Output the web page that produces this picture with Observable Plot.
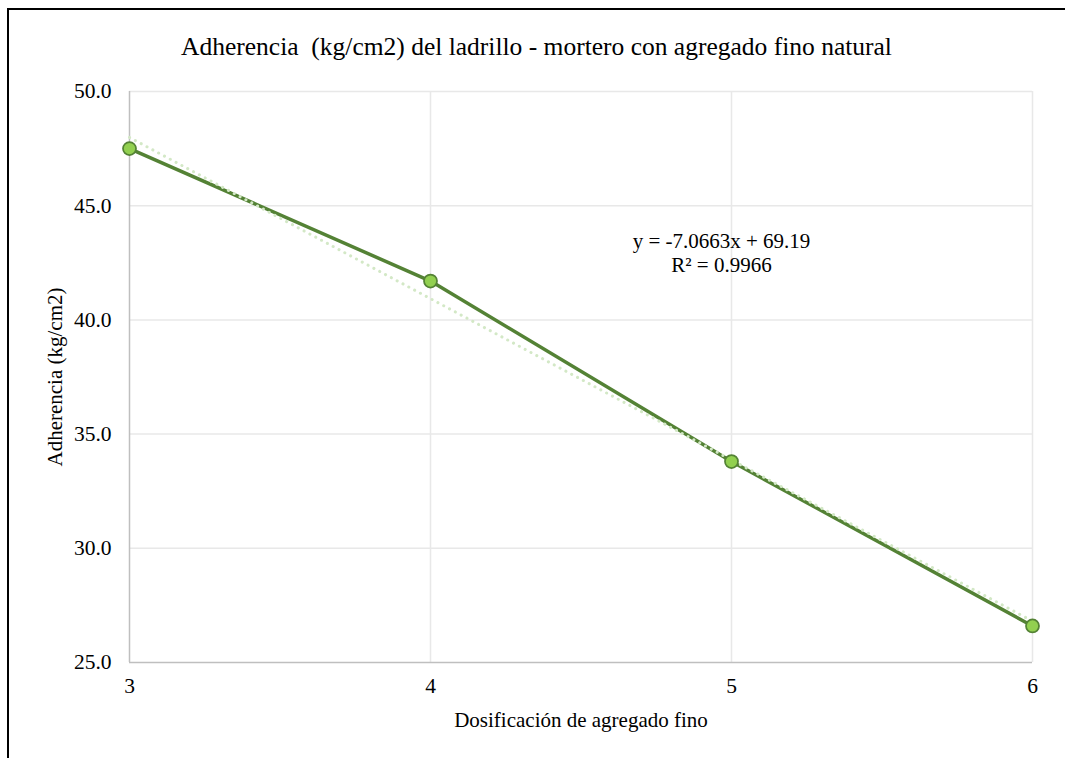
<!DOCTYPE html>
<html>
<head>
<meta charset="utf-8">
<script src="https://cdn.jsdelivr.net/npm/d3@7"></script>
<script src="https://cdn.jsdelivr.net/npm/@observablehq/plot@0.6"></script>
<style>
  html, body { margin: 0; padding: 0; background: #fff; }
  #wrap { position: relative; width: 1065px; height: 758px; overflow: hidden; background: #fff;
          font-family: "Liberation Serif", "Times New Roman", serif; }
  #frame { position: absolute; left: 7px; top: 8px; width: 1200px; height: 900px;
           border-left: 2px solid #000; border-top: 2px solid #000; box-sizing: border-box; }
  #title { position: absolute; left: 0; top: 0; width: 1073px; height: 70px; line-height: 94px;
           text-align: center; font-size: 25.5px; color: #000; white-space: pre; }
  #chart { position: absolute; left: 0; top: 70px; }
</style>
</head>
<body>
<div id="wrap">
  <div id="frame"></div>
  <div id="title"></div>
  <div id="chart"></div>
</div>
<script>
const titleText = "Adherencia  (kg/cm2) del ladrillo - mortero con agregado fino natural";
const xLabel = "Dosificación de agregado fino";
const yLabel = "Adherencia (kg/cm2)";
const dosificacion = [3, 4, 5, 6];
const adherencia = [47.5, 41.7, 33.8, 26.6];
const xTicks = [3, 4, 5, 6];
const yTicks = [25, 30, 35, 40, 45, 50];
const equationText = "y = -7.0663x + 69.19";
const r2Text = "R² = 0.9966";

const data = dosificacion.map((d, i) => ({x: d, y: adherencia[i]}));

document.getElementById("title").textContent = titleText;

const font = "'Liberation Serif', 'Times New Roman', serif";
const chart = Plot.plot({
  width: 1065,
  height: 688,
  marginTop: 21,
  marginBottom: 96,
  marginLeft: 129,
  marginRight: 33,
  style: {fontFamily: font, fontSize: "21px", color: "#000", background: "transparent", overflow: "visible"},
  x: {domain: [3, 6], ticks: xTicks},
  y: {domain: [25, 50], ticks: yTicks},
  marks: [
    Plot.gridY(yTicks.slice(1), {stroke: "#e8e8e8", strokeOpacity: 1, strokeWidth: 1.5}),
    Plot.gridX(xTicks.slice(1), {stroke: "#e8e8e8", strokeOpacity: 1, strokeWidth: 1.5}),
    Plot.ruleY([yTicks[0]], {stroke: "#bfbfbf", strokeWidth: 1.5}),
    Plot.ruleX([xTicks[0]], {stroke: "#bfbfbf", strokeWidth: 1.5}),
    Plot.axisY(yTicks, {tickSize: 0, tickPadding: 18, tickFormat: d => d.toFixed(1), label: null, fontSize: 21.5, fontFamily: font}),
    Plot.axisX(xTicks, {tickSize: 0, tickPadding: 15, tickFormat: d => String(d), label: null, fontSize: 21.5, fontFamily: font}),
    Plot.line(data, {x: "x", y: "y", stroke: "#548235", strokeWidth: 3.5}),
    Plot.linearRegressionY(data, {x: "x", y: "y", ci: 0, stroke: "#d3e8c6", strokeWidth: 3, strokeDasharray: "0.1 6.5", strokeLinecap: "round"}),
    Plot.dot(data, {x: "x", y: "y", r: 6.5, fill: "#92d050", stroke: "#548235", strokeWidth: 1.75}),
    Plot.text([equationText + "\n" + r2Text], {frameAnchor: "top-left", dx: 592, dy: 161, text: d => d, textAnchor: "middle", lineAnchor: "middle", lineHeight: 1.12, fontSize: 21, fontFamily: font, fill: "#000"}),
    Plot.text([xLabel], {frameAnchor: "bottom", dy: 58, text: d => d, lineAnchor: "middle", fontSize: 21, fontFamily: font, fill: "#000"}),
    Plot.text([yLabel], {frameAnchor: "left", dx: -74, rotate: -90, text: d => d, textAnchor: "middle", lineAnchor: "middle", fontSize: 21, fontFamily: font, fill: "#000"})
  ]
});
document.getElementById("chart").appendChild(chart);
</script>
</body>
</html>
